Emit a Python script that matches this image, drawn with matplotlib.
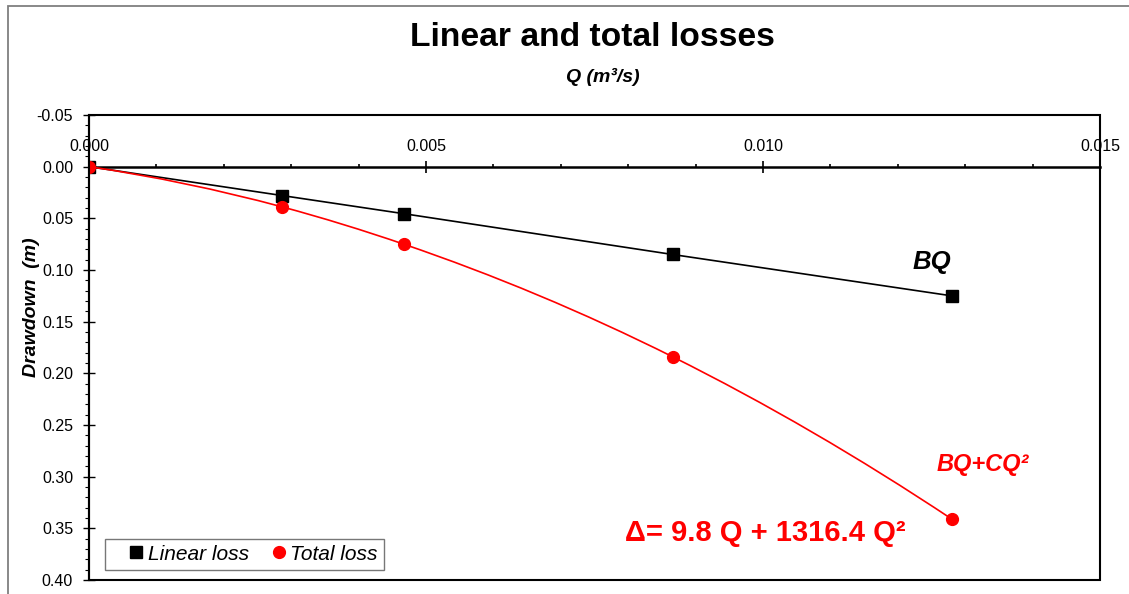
import numpy as np
import matplotlib
matplotlib.use("Agg")
import matplotlib.pyplot as plt
from matplotlib.path import Path
from matplotlib.patches import PathPatch, Rectangle
from matplotlib.ticker import MultipleLocator, FormatStrFormatter

plt.rcParams['font.family'] = ['Liberation Sans', 'DejaVu Sans']

# ---- data ----
Q = [0.0, 0.00287, 0.00467, 0.00866, 0.0128]
linear_loss = [0.0, 0.028, 0.0455, 0.085, 0.125]
total_loss = [0.0, 0.039, 0.075, 0.184, 0.341]
legend_labels = ["Linear loss", "Total loss"]
title = "Linear and total losses"
xlabel = "Q (m³/s)"
ylabel = "Drawdown  (m)"
label_linear = "BQ"
label_total = "BQ+CQ²"
eq_text = "Δ= 9.8 Q + 1316.4 Q²"

W, H = 1129, 594
fig = plt.figure(figsize=(W / 100, H / 100), dpi=100)
L, R, T, B = 89, 1100, 115, 580
ax = fig.add_axes([L / W, 1 - B / H, (R - L) / W, (B - T) / H])

# figure border (gray, only top/left visible)
fig.patches.append(Rectangle((8 / W, -0.1), 1.2, 1 - 6 / H + 0.1, transform=fig.transFigure,
                             fill=False, ec='#7f7f7f', lw=1.3, zorder=0))


def smooth_path(x, y):
    """Smooth line through the points (cubic Hermite / Bezier segments)."""
    x = np.asarray(x, float); y = np.asarray(y, float)
    n = len(x)
    h = np.diff(x)
    d = np.diff(y) / h
    m = np.zeros(n)
    for i in range(1, n - 1):
        m[i] = (h[i - 1] * d[i] + h[i] * d[i - 1]) / (h[i - 1] + h[i])
    m[0] = d[0] - (d[1] - d[0]) * h[0] / (h[0] + h[1])
    m[-1] = d[-1] + (d[-1] - d[-2]) * h[-1] / (h[-2] + h[-1])
    verts = [(x[0], y[0])]
    codes = [Path.MOVETO]
    for i in range(n - 1):
        c1 = (x[i] + h[i] / 3, y[i] + m[i] * h[i] / 3)
        c2 = (x[i + 1] - h[i] / 3, y[i + 1] - m[i + 1] * h[i] / 3)
        verts += [c1, c2, (x[i + 1], y[i + 1])]
        codes += [Path.CURVE4] * 3
    return Path(verts, codes)


ax.plot(Q, linear_loss, color='black', lw=1.2, marker='s', ms=8, mec='black', mfc='black',
        zorder=3, label=legend_labels[0])
ax.add_patch(PathPatch(smooth_path(Q, total_loss), fill=False, ec='red', lw=1.2, zorder=4))
ax.plot(Q, total_loss, ls='none', marker='o', ms=8.5, mec='red', mfc='red', zorder=5,
        label=legend_labels[1])

ax.set_xlim(0, 0.015)
ax.set_ylim(0.40, -0.05)

# x axis at y = 0 with labels above
ax.spines['top'].set_position(('data', 0))
ax.spines['top'].set_linewidth(1.8)
ax.spines['bottom'].set_visible(False)
ax.spines['right'].set_visible(False)
ax.spines['left'].set_linewidth(1.5)
ax.add_patch(Rectangle((0, 0), 1, 1, transform=ax.transAxes, fill=False, ec='black',
                       lw=1.5, zorder=6, clip_on=False))
ax.xaxis.set_ticks_position('top')
ax.xaxis.set_major_locator(MultipleLocator(0.005))
ax.xaxis.set_minor_locator(MultipleLocator(0.001))
ax.xaxis.set_major_formatter(FormatStrFormatter('%.3f'))
ax.yaxis.set_major_locator(MultipleLocator(0.05))
ax.yaxis.set_minor_locator(MultipleLocator(0.01))
ax.yaxis.set_major_formatter(FormatStrFormatter('%.2f'))
ax.tick_params(axis='x', which='major', direction='inout', length=8, width=1.2,
               labelsize=11.5, pad=5)
ax.tick_params(axis='x', which='minor', direction='out', length=2.5, width=1.2)
ax.tick_params(axis='y', which='major', direction='inout', length=9, width=1.0,
               labelsize=11.5, pad=7)
ax.tick_params(axis='y', which='minor', direction='out', length=3, width=0.8)

fig.text(592 / W, 1 - 38 / H, title, ha='center', va='center', fontsize=24.2, fontweight='bold')
fig.text(603 / W, 1 - 77 / H, xlabel, ha='center', va='center', fontsize=14,
         fontweight='bold', style='italic')
fig.text(31 / W, 1 - 307 / H, ylabel, ha='center', va='center', fontsize=14,
         fontweight='bold', style='italic', rotation=90)

ax.text(0.01251, 0.0925, label_linear, ha='center', va='center', fontsize=18.5,
        fontweight='bold', style='italic', color='black')
ax.text(0.01326, 0.288, label_total, ha='center', va='center', fontsize=17,
        fontweight='bold', style='italic', color='red')
ax.text(0.01003, 0.3547, eq_text, ha='center', va='center', fontsize=21,
        fontweight='bold', color='red')

leg = ax.legend(loc='lower left', bbox_to_anchor=((105 - L) / (R - L), (B - 570) / (B - T)),
                ncol=2, frameon=True, fancybox=False, fontsize=15, handlelength=2.38,
                handletextpad=-0.63, columnspacing=0.24, borderpad=0.3, borderaxespad=0)
leg.get_frame().set_edgecolor('#555555')
leg.get_frame().set_linewidth(1.0)
for t in leg.get_texts():
    t.set_fontstyle('italic')
for h in leg.legend_handles:
    h.set_linestyle('none')

fig.savefig('out.png', dpi=100)
